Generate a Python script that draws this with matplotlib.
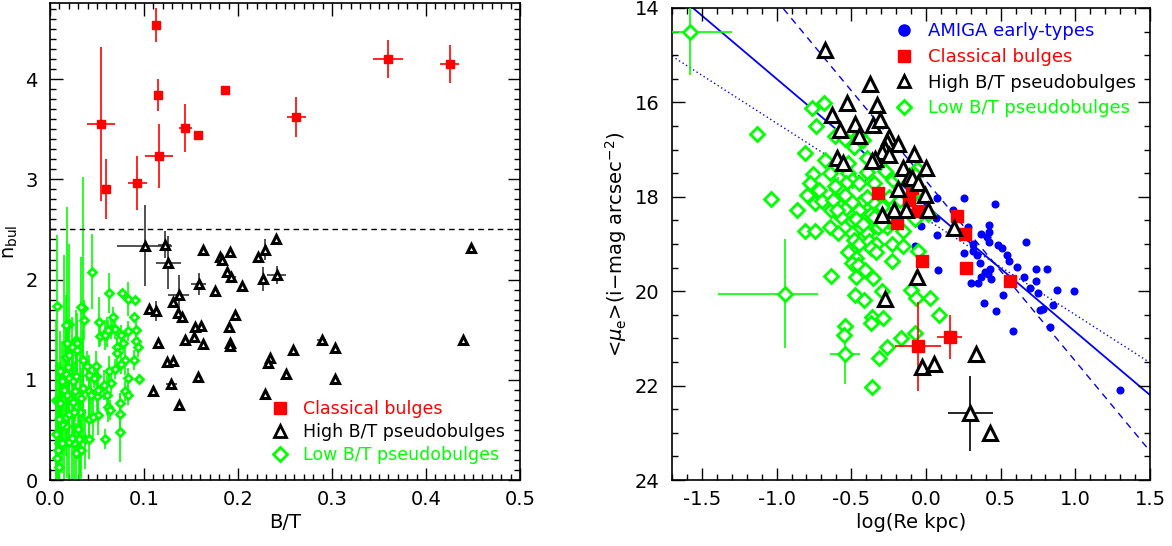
import numpy as np
import matplotlib
matplotlib.use('Agg')
from matplotlib import pyplot as plt
from matplotlib.ticker import MultipleLocator

plt.rcParams['font.family'] = ['DejaVu Sans']

RED = '#ff0000'
GRN = '#00ff00'
BLU = '#0000ff'

# ---------------- left panel: n_bul vs B/T ----------------
# classical bulges: B/T, n, err(B/T), err(n)
cb_bt = [0.113, 0.360, 0.425, 0.186, 0.115, 0.262, 0.054, 0.144, 0.157, 0.116, 0.093, 0.060]
cb_n = [4.54, 4.20, 4.15, 3.89, 3.84, 3.62, 3.55, 3.51, 3.44, 3.23, 2.96, 2.90]
cb_bt_err = [0.002, 0.016, 0.010, 0.002, 0.002, 0.010, 0.015, 0.007, 0.0, 0.015, 0.010, 0.0]
cb_n_err = [0.17, 0.19, 0.19, 0.04, 0.16, 0.20, 0.77, 0.24, 0.0, 0.32, 0.27, 0.30]

# high B/T pseudobulges
hb_bt = [0.1006, 0.122, 0.126, 0.163, 0.181, 0.183, 0.191, 0.221, 0.229, 0.240, 0.448,
         0.188, 0.193, 0.227, 0.241, 0.158, 0.175, 0.204, 0.137, 0.131, 0.105, 0.113,
         0.136, 0.140, 0.197, 0.154, 0.161, 0.190, 0.115, 0.144, 0.153, 0.163, 0.192,
         0.192, 0.258, 0.289, 0.303, 0.439, 0.124, 0.131, 0.157, 0.234, 0.232, 0.251,
         0.303, 0.110, 0.129, 0.229, 0.137]
hb_n = [2.34, 2.35, 2.17, 2.30, 2.23, 2.20, 2.28, 2.23, 2.30, 2.40, 2.32,
        2.08, 2.03, 2.01, 2.05, 1.96, 1.89, 1.94, 1.85, 1.78, 1.71, 1.69,
        1.67, 1.63, 1.65, 1.53, 1.54, 1.53, 1.37, 1.40, 1.43, 1.36, 1.37,
        1.34, 1.30, 1.40, 1.32, 1.40, 1.18, 1.19, 1.03, 1.22, 1.17, 1.06,
        1.01, 0.89, 0.96, 0.86, 0.75]
hb_bt_err = [0.029, 0.007, 0.013, 0, 0, 0, 0, 0, 0, 0, 0,
             0, 0.005, 0, 0.010, 0.008, 0, 0, 0.011, 0, 0, 0.004,
             0, 0, 0, 0, 0, 0, 0, 0, 0, 0, 0,
             0, 0, 0.005, 0, 0, 0, 0, 0, 0, 0, 0,
             0, 0, 0.006, 0, 0]
hb_n_err = [0.40, 0.13, 0.26, 0, 0, 0, 0, 0, 0.10, 0, 0,
            0, 0, 0.12, 0.09, 0.11, 0, 0, 0.20, 0, 0, 0.10,
            0, 0, 0, 0, 0, 0, 0, 0, 0, 0, 0,
            0, 0, 0, 0, 0, 0, 0, 0, 0, 0, 0,
            0, 0.05, 0, 0, 0]

# low B/T pseudobulges: B/T, n, err(n)
lb_bt = [0.045, 0.007, 0.063, 0.077, 0.083, 0.090, 0.067, 0.089, 0.035, 0.033,
         0.036, 0.020, 0.017, 0.052, 0.053, 0.061, 0.065, 0.069, 0.058, 0.062,
         0.076, 0.078, 0.071, 0.071, 0.083, 0.092, 0.092, 0.094, 0.089, 0.080,
         0.095, 0.083, 0.075, 0.069, 0.063, 0.065, 0.057, 0.049, 0.049, 0.047,
         0.041, 0.039, 0.035, 0.050, 0.051, 0.061, 0.062, 0.064, 0.074, 0.074,
         0.080, 0.083, 0.074, 0.058, 0.051, 0.041, 0.046, 0.033, 0.032, 0.030,
         0.037, 0.041, 0.031, 0.026, 0.020, 0.023, 0.017, 0.013, 0.012, 0.017,
         0.020, 0.025, 0.024, 0.018, 0.027, 0.015, 0.013, 0.017, 0.020, 0.024,
         0.028, 0.019, 0.017, 0.020, 0.018, 0.028, 0.023, 0.029, 0.029, 0.011,
         0.006, 0.008, 0.011, 0.010, 0.009, 0.007, 0.006, 0.013, 0.010, 0.035,
         0.041, 0.044, 0.033, 0.028, 0.010]
lb_n = [2.08, 1.74, 1.87, 1.87, 1.81, 1.80, 1.63, 1.63, 1.72, 1.73,
        1.60, 1.56, 1.55, 1.58, 1.44, 1.48, 1.51, 1.51, 1.45, 1.50,
        1.45, 1.37, 1.33, 1.27, 1.49, 1.50, 1.39, 1.33, 1.20, 1.20,
        1.01, 1.02, 1.16, 1.11, 1.09, 0.97, 0.95, 1.14, 1.04, 1.02,
        1.05, 1.14, 1.20, 0.84, 0.90, 0.85, 0.73, 0.70, 0.77, 0.66,
        0.89, 0.85, 0.48, 0.41, 0.65, 0.61, 0.63, 0.82, 0.68, 0.51,
        0.41, 0.41, 0.41, 0.37, 0.38, 0.42, 0.54, 0.56, 0.61, 0.63,
        0.66, 0.68, 0.78, 0.85, 0.89, 0.90, 0.99, 1.06, 1.02, 0.99,
        1.04, 1.13, 1.23, 1.25, 1.37, 1.40, 1.33, 1.37, 1.30, 1.09,
        0.80, 0.78, 0.77, 0.37, 0.30, 0.22, 0.46, 0.37, 0.61, 0.92,
        0.89, 0.85, 0.30, 0.27, 0.13]
lb_n_err = [0.37, 0.70, 0.20, 0.00, 0.17, 0.00, 0.10, 0.00, 1.30, 0.50,
            0.20, 0.80, 0.30, 0.25, 0.10, 0.15, 0.10, 0.10, 0.15, 0.10,
            0.10, 0.10, 0.10, 0.15, 0.10, 0.10, 0.10, 0.10, 0.10, 0.15,
            0.05, 0.10, 0.10, 0.10, 0.15, 0.10, 0.15, 0.15, 0.10, 0.10,
            0.20, 0.15, 0.30, 0.15, 0.20, 0.20, 0.15, 0.10, 0.10, 0.20,
            0.10, 0.10, 0.30, 0.10, 0.20, 0.20, 0.20, 0.30, 0.65, 0.30,
            0.30, 0.20, 0.40, 0.40, 0.50, 0.90, 0.30, 0.30, 0.30, 0.30,
            0.30, 0.30, 0.40, 0.30, 0.30, 1.35, 0.40, 0.30, 0.30, 0.30,
            0.30, 0.40, 0.30, 0.30, 1.35, 0.30, 0.30, 0.30, 0.30, 0.40,
            0.80, 0.40, 0.40, 0.40, 0.40, 0.30, 0.70, 0.30, 0.50, 0.30,
            0.30, 0.20, 0.30, 0.30, 0.20]

n_limit = 2.5

# ---------------- right panel: <mu_e> vs log(Re) ----------------
amiga_logre = [0.257, 0.461, 0.072, 0.070, -0.032, 0.074, 0.183, 0.28, 0.42, 0.42,
               0.37, 0.41, 0.42, 0.314, 0.255, 0.318, 0.339, 0.363, 0.483, 0.506,
               0.540, 0.553, 0.607, 0.668, 0.736, 0.813, 0.740, 0.657, 0.695, 0.747,
               0.880, 0.993, 0.853, 0.781, 0.765, 0.833, 0.582, 0.470, 0.517, 0.388,
               0.300, 0.348, 0.368, 0.393, 0.427, 0.418, 0.436, 0.081, -0.072, 1.298]
amiga_mu = [18.03, 18.16, 18.03, 18.44, 18.62, 18.80, 18.29, 18.65, 18.59, 18.74,
            18.79, 18.85, 18.95, 19.01, 19.19, 19.14, 19.23, 19.40, 19.02, 19.09,
            19.23, 19.36, 19.49, 18.95, 19.54, 19.54, 19.79, 19.70, 19.93, 20.03,
            19.98, 19.99, 20.29, 20.37, 20.40, 20.76, 20.84, 20.41, 20.09, 20.24,
            19.82, 19.83, 19.70, 19.59, 19.52, 19.63, 19.75, 19.56, 19.04, 22.09]

cb_logre = [-0.322, -0.094, -0.111, -0.054, -0.193, 0.21, 0.26, -0.025, 0.268, 0.562, 0.159, -0.054]
cb_mu = [17.93, 17.82, 18.07, 18.31, 18.55, 18.41, 18.78, 19.35, 19.50, 19.78, 20.97, 21.17]
cb_logre_err = [0, 0, 0, 0, 0, 0, 0, 0, 0, 0, 0.085, 0.155]
cb_mu_err = [0, 0, 0, 0, 0, 0, 0.10, 0, 0, 0.12, 0.46, 0.94]

hb_logre = [-0.676, -0.372, -0.53, -0.33, -0.632, -0.478, -0.354, -0.31, -0.575, -0.446,
            -0.248, -0.26, -0.186, -0.272, -0.297, -0.248, -0.342, -0.364, -0.594, -0.552,
            -0.077, -0.154, 0.0, -0.111, -0.094, -0.05, -0.19, -0.007, -0.215, -0.131,
            0.012, -0.297, 0.186, -0.06, -0.272, 0.334, -0.027, 0.052, 0.297, 0.426]
hb_mu = [14.88, 15.62, 16.01, 16.06, 16.26, 16.46, 16.48, 16.37, 16.59, 16.71,
         16.73, 16.84, 16.88, 16.99, 17.06, 17.12, 17.20, 17.25, 17.18, 17.28,
         17.09, 17.38, 17.38, 17.57, 17.60, 17.71, 17.84, 17.97, 18.28, 18.28,
         18.29, 18.38, 18.67, 19.70, 20.17, 21.32, 21.61, 21.55, 22.59, 23.00]
hb_logre_err = [0] * 38 + [0.15, 0]
hb_mu_err = [0] * 38 + [0.80, 0]

lb_logre = [-1.58, -0.941, -0.54, -0.59,
            -1.132, -1.04, -0.86, -0.812, -0.812, -0.743, -0.644, -0.587, -0.76, -0.681,
            -0.736, -0.607, -0.545, -0.483, -0.451, -0.421, -0.679, -0.755, -0.644, -0.775,
            -0.713, -0.798, -0.743, -0.693, -0.607, -0.637, -0.582, -0.545, -0.520, -0.520,
            -0.495, -0.537, -0.446, -0.396, -0.396, -0.347, -0.434, -0.495, -0.347, -0.367,
            -0.297, -0.248, -0.277, -0.173, -0.074, -0.062, 0.012, -0.074, -0.154, -0.26,
            -0.322, -0.347, -0.446, -0.495, -0.57, -0.495, -0.483, -0.446, -0.396, -0.384,
            -0.334, -0.371, -0.228, -0.154, -0.228, -0.05, -0.47, -0.495, -0.458, -0.466,
            -0.409, -0.354, -0.637, -0.292, -0.099, -0.069, 0.025, -0.478, -0.414, 0.087,
            -0.359, -0.285, -0.371, -0.545, -0.55, -0.166, -0.074, -0.26, -0.315, -0.364,
            -0.334, -0.52, -0.619, -0.594, -0.57, -0.607, -0.545, -0.47, -0.421, -0.396,
            -0.223, -0.173, -0.074, -0.111, -0.05, -0.198, -0.248, -0.297]
lb_mu = [14.51, 20.05, 21.33, 17.86,
         16.68, 18.05, 18.27, 17.07, 18.72, 18.72, 18.65, 18.76, 16.12, 16.01,
         16.51, 16.72, 16.77, 16.95, 16.70, 16.80, 17.22, 17.51, 17.49, 17.71,
         17.86, 17.96, 18.14, 18.09, 18.04, 18.29, 18.18, 18.25, 17.28, 17.49,
         17.64, 17.71, 17.71, 17.48, 17.17, 17.71, 18.11, 18.11, 18.14, 18.36,
         18.22, 18.00, 17.46, 18.07, 17.93, 17.42, 18.36, 18.47, 18.72, 18.65,
         18.65, 18.43, 18.29, 18.51, 18.43, 18.76, 18.91, 19.01, 18.76, 18.94,
         19.01, 19.09, 19.01, 19.04, 19.36, 19.14, 19.30, 19.41, 19.45, 19.70,
         19.56, 19.72, 19.67, 19.99, 19.97, 20.15, 20.14, 20.07, 20.19, 20.51,
         20.55, 20.56, 20.68, 20.74, 20.93, 21.00, 20.88, 21.19, 21.41, 22.02,
         19.16, 19.16, 18.07, 18.29, 17.86, 17.78, 17.96, 18.47, 18.58, 18.00,
         17.64, 17.57, 17.53, 18.00, 17.86, 18.43, 18.51, 18.58]
# error bars only for the first four low B/T objects (asymmetric in log Re)
lb_logre_lo = [0.28, 0.45, 0.10, 0.06]
lb_logre_hi = [0.28, 0.22, 0.10, 0.06]
lb_mu_err = [0.92, 1.15, 0.64, 0.27]

# fits (slope, value at log Re = 0)
fit_solid = (2.68, 18.18)
fit_dashed = (3.82, 17.66)
fit_dotted = (2.03, 18.47)

fig = plt.figure(figsize=(11.72, 5.46), dpi=100)
axL = fig.add_axes([50 / 1172, 1 - 480 / 546, 470 / 1172, 477 / 546])
axR = fig.add_axes([672 / 1172, 1 - 480 / 546, 478 / 1172, 472 / 546])

# left
axL.errorbar(cb_bt, cb_n, xerr=cb_bt_err, yerr=cb_n_err, fmt='none', ecolor=RED, elinewidth=1.2, zorder=2)
axL.plot(cb_bt, cb_n, 's', color=RED, ms=5.5, zorder=3)
axL.errorbar(hb_bt, hb_n, xerr=hb_bt_err, yerr=hb_n_err, fmt='none', ecolor='#333333', elinewidth=1.2, zorder=2)
axL.plot(hb_bt, hb_n, '^', mfc='white', mec='black', mew=2.2, ms=5.5, zorder=3)
axL.errorbar(lb_bt, lb_n, yerr=lb_n_err, fmt='none', ecolor=GRN, elinewidth=1.2, zorder=2)
axL.plot(lb_bt, lb_n, 'D', mfc='white', mec=GRN, mew=2, ms=4.5, zorder=4)
axL.axhline(n_limit, color='black', ls=(0, (4, 3)), lw=1)

axL.set_xlim(0, 0.5)
axL.set_ylim(0, 4.76)
axL.xaxis.set_major_locator(MultipleLocator(0.1))
axL.xaxis.set_minor_locator(MultipleLocator(0.01))
axL.yaxis.set_major_locator(MultipleLocator(1))
axL.yaxis.set_minor_locator(MultipleLocator(0.1))
axL.xaxis.set_major_formatter(plt.FormatStrFormatter('%.1f'))
axL.set_xlabel('B/T', fontsize=14, labelpad=3)
axL.set_ylabel(r'n$_{\rm bul}$', fontsize=14)

h1, = axL.plot([], [], 's', color=RED, ms=9)
h2, = axL.plot([], [], '^', mfc='white', mec='black', mew=2, ms=9)
h3, = axL.plot([], [], 'D', mfc='white', mec=GRN, mew=2, ms=7)
axL.legend([h1, h2, h3], ['Classical bulges', 'High B/T pseudobulges', 'Low B/T pseudobulges'],
           loc='lower right', frameon=False, fontsize=12.5, handlelength=1.0, handletextpad=0.8,
           labelspacing=0.3, labelcolor=[RED, 'black', GRN], borderaxespad=0.5)

# right
xs = np.array([-1.7, 1.5])
axR.plot(xs, fit_solid[0] * xs + fit_solid[1], color=BLU, lw=1.3, zorder=1)
axR.plot(xs, fit_dashed[0] * xs + fit_dashed[1], color=BLU, lw=1, ls=(0, (5, 4)), zorder=1)
axR.plot(xs, fit_dotted[0] * xs + fit_dotted[1], color=BLU, lw=1, ls=(0, (1, 2)), zorder=1)

axR.plot(amiga_logre, amiga_mu, 'o', color=BLU, ms=4.8, zorder=2)
lb_xerr = np.array([lb_logre_lo, lb_logre_hi])
axR.errorbar(lb_logre[:4], lb_mu[:4], xerr=lb_xerr, yerr=lb_mu_err, fmt='none', ecolor=GRN, elinewidth=1.2, zorder=3)
axR.plot(lb_logre, lb_mu, 'D', mfc='white', mec=GRN, mew=2, ms=7, zorder=3)
axR.errorbar(cb_logre, cb_mu, xerr=cb_logre_err, yerr=cb_mu_err, fmt='none', ecolor=RED, elinewidth=1.2, zorder=4)
axR.plot(cb_logre, cb_mu, 's', color=RED, ms=9, zorder=4)
axR.errorbar(hb_logre, hb_mu, xerr=hb_logre_err, yerr=hb_mu_err, fmt='none', ecolor='black', elinewidth=1.2, zorder=5)
axR.plot(hb_logre, hb_mu, '^', mfc='white', mec='black', mew=2.2, ms=10, zorder=5)

axR.set_xlim(-1.7, 1.5)
axR.set_ylim(24, 14)
axR.xaxis.set_major_locator(MultipleLocator(0.5))
axR.xaxis.set_minor_locator(MultipleLocator(0.1))
axR.yaxis.set_major_locator(MultipleLocator(2))
axR.yaxis.set_minor_locator(MultipleLocator(0.5))
axR.xaxis.set_major_formatter(plt.FormatStrFormatter('%.1f'))
axR.set_xlabel('log(Re kpc)', fontsize=14, labelpad=3)
axR.set_ylabel(r'<$\mu_{\rm e}$>(i$-$mag arcsec$^{-2}$)', fontsize=14)

g0, = axR.plot([], [], 'o', color=BLU, ms=8)
g1, = axR.plot([], [], 's', color=RED, ms=9)
g2, = axR.plot([], [], '^', mfc='white', mec='black', mew=2, ms=9)
g3, = axR.plot([], [], 'D', mfc='white', mec=GRN, mew=2, ms=7)
axR.legend([g0, g1, g2, g3], ['AMIGA early-types', 'Classical bulges', 'High B/T pseudobulges',
                              'Low B/T pseudobulges'],
           loc='upper right', frameon=False, fontsize=13, handlelength=1.0, handletextpad=0.8,
           labelspacing=0.42, labelcolor=[BLU, RED, 'black', GRN], borderaxespad=0.4)

for ax in (axL, axR):
    ax.tick_params(which='both', direction='in', top=True, right=True, labelsize=14)
    ax.tick_params(which='major', length=9, width=1)
    ax.tick_params(which='minor', length=4.5, width=1)
    ax.tick_params(axis='x', pad=7)
    ax.tick_params(axis='y', pad=9)
    for s in ax.spines.values():
        s.set_linewidth(1.2)

fig.savefig('out.png', dpi=100)
